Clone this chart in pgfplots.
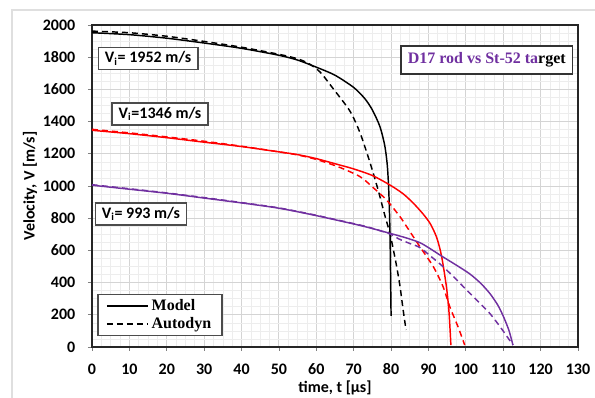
\documentclass[border=0pt]{standalone}
\usepackage{fontspec}
\setmainfont{Carlito}
\newfontfamily\serifb{Liberation Serif}
\usepackage{pgfplots}
\pgfplotsset{compat=1.18}
\definecolor{purp}{HTML}{7030A0}
\definecolor{gridmaj}{HTML}{D4D4D4}
\definecolor{gridmin}{HTML}{EDEDED}
\begin{document}
\begin{tikzpicture}
\begin{axis}[
  scale only axis, width=364.5pt, height=241.5pt,
  xmin=0, xmax=130, ymin=0, ymax=2000,
  xtick={0,10,...,130}, ytick={0,200,...,2000},
  minor x tick num=3, minor y tick num=3,
  grid=both,
  major grid style={gridmaj, line width=0.7pt},
  minor grid style={gridmin, line width=0.5pt},
  axis line style={black!85, line width=1.6pt},
  tick align=outside, major tick length=3pt, minor tick length=0pt,
  major tick style={black!50, line width=0.6pt},
  xtick pos=bottom, ytick pos=left,
  /pgf/number format/assume math mode=true,
  /pgf/number format/1000 sep={},
  tick label style={font=\fontsize{12}{14}\selectfont\bfseries},
  yticklabel style={xshift=-6pt},
  xticklabel style={yshift=-6pt},
  xlabel={time, t [µs]}, ylabel={Velocity, V [m/s]},
  every axis x label/.style={at={(axis description cs:0.5,-0.127)}, anchor=center, font=\fontsize{12}{14}\selectfont\bfseries},
  every axis y label/.style={at={(axis description cs:-0.1276,0.5)}, rotate=90, anchor=center, font=\fontsize{12}{14}\selectfont\bfseries},
  legend image code/.code={\draw[#1,line width=1.1pt] (0pt,0pt) -- (31pt,0pt);},
  legend style={at={(axis description cs:0.14,0.0994)}, anchor=center,
    draw=black!70, line width=1.2pt, fill=white,
    font=\serifb\fontsize{12}{14}\selectfont\bfseries,
    inner xsep=6pt, inner ysep=1.5pt, cells={anchor=west}},
  every axis plot/.append style={smooth, tension=0.45},
  clip=false,
]
\coordinate (sw) at (rel axis cs:0,0);
\coordinate (ne) at (rel axis cs:1,1);
% Black model
\addplot[black, line width=1.1pt, forget plot] coordinates {
(0,1952)(10,1940)(20,1918)(30,1888)(40,1855)(50,1812)(55,1782)(60,1738)(65,1688)(70,1612)(73,1542)(75,1472)(77,1370)(78.3,1252)(79,1125)(79.4,960)(79.7,720)(79.85,460)(80,193)};
% Black autodyn
\addplot[black, line width=1.1pt, dash pattern=on 4.5pt off 3pt, forget plot] coordinates {
(0,1962)(10,1952)(20,1930)(30,1898)(40,1862)(50,1818)(55,1790)(58,1760)(61,1708)(64.5,1605)(69,1465)(71.7,1330)(74.3,1150)(76.6,970)(78.3,820)(79.7,705)(80.6,605)(81.5,499)(82.4,375)(83.2,235)(84,106)};
% Red model
\addplot[red, line width=1.1pt, forget plot] coordinates {
(0,1346)(10,1325)(20,1300)(30,1272)(40,1245)(50,1212)(55,1195)(60,1170)(66,1132)(70,1106)(75,1065)(79.7,1006)(83.2,952)(86,892)(88.6,825)(90.5,765)(92.2,680)(93.5,565)(94.8,375)(95.5,215)(96,12)};
% Red autodyn
\addplot[red, line width=1.1pt, dash pattern=on 4.5pt off 3pt, forget plot] coordinates {
(0,1352)(10,1330)(20,1305)(30,1278)(40,1247)(50,1212)(55,1193)(60,1165)(66,1118)(71.7,1058)(75.2,990)(78.8,913)(82.4,809)(84.1,750)(87.7,623)(91.3,499)(93.9,375)(95.7,250)(97.9,126)(99.7,12)};
% Purple model
\addplot[purp, line width=1.1pt, forget plot] coordinates {
(0,1005)(10,980)(20,955)(30,925)(40,895)(50,862)(60,816)(70.8,760)(74.3,740)(79.7,706)(84,678)(87.7,648)(90.5,610)(93.5,565)(97,515)(101,455)(104,395)(106.4,333)(108.5,262)(110,192)(111.5,105)(112.6,12)};
% Purple autodyn
\addplot[purp, line width=1.1pt, dash pattern=on 4.5pt off 3pt, forget plot] coordinates {
(0,1008)(10,983)(20,957)(30,928)(40,897)(50,864)(60,818)(70.8,762)(74.3,742)(79.7,702)(82,672)(85,643)(87.7,618)(90.8,560)(93.9,499)(97,430)(100.2,354)(103.3,282)(106.4,209)(109.5,115)(112.6,12)};
\addlegendimage{black}
\addlegendentry{Model}
\addlegendimage{black, dash pattern=on 4.5pt off 3pt}
\addlegendentry{Autodyn}
\node[draw=black!70, line width=1.1pt, fill=white, inner xsep=5pt, inner ysep=3pt,
  font=\fontsize{12}{14}\selectfont\bfseries] at (axis cs:15,1792) {V\textsubscript{i}= 1952 m/s};
\node[draw=black!70, line width=1.1pt, fill=white, inner xsep=5pt, inner ysep=3pt,
  font=\fontsize{12}{14}\selectfont\bfseries] at (axis cs:18.2,1447) {V\textsubscript{i}=1346 m/s};
\node[draw=black!70, line width=1.1pt, fill=white, inner xsep=5pt, inner ysep=3pt,
  font=\fontsize{12}{14}\selectfont\bfseries] at (axis cs:13.1,826) {V\textsubscript{i}= 993 m/s};
\node[draw=black!80, line width=1.1pt, fill=white, inner xsep=5pt, inner ysep=5pt,
  font=\serifb\fontsize{12}{14}\selectfont\bfseries] at (axis cs:105.6,1783) {\textcolor{purp}{D17 rod vs St-52 ta}rget};
\end{axis}
\pgfresetboundingbox
\coordinate (BL) at ([shift={(-69pt,-38.25pt)}]sw);
\coordinate (TR) at ([shift={(12.75pt,18.75pt)}]ne);
\coordinate (FL) at ([shift={(-60pt,-38.25pt)}]sw);
\coordinate (FT) at ([shift={(12.75pt,11.25pt)}]ne);
\useasboundingbox (BL) rectangle (TR);
\draw[gray!25, line width=0.8pt] (FL) -- (FL |- FT) -- (FT);
\end{tikzpicture}
\end{document}
